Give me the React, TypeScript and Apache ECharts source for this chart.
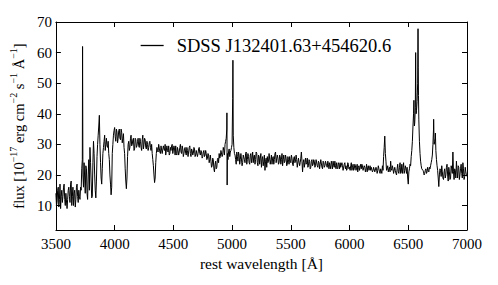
import React, { useEffect, useRef } from "react";
import * as echarts from "echarts";

const WL_START = 3500;
const WL_STEP = 10;
const continuumFlux: number[] = [
  // 3500
  14, 11, 16, 12, 9, 15, 13, 17, 10, 14,
  // 3600
  12, 16, 11, 18, 13, 10, 15, 12, 17, 11,
  // 3700
  13, 16, 22, 20, 24, 14, 22, 12, 25, 29,
  // 3800
  18, 13, 31, 20, 12.5, 26, 33, 39.5, 24, 17,
  // 3900
  27, 31, 28, 32, 29, 27, 20, 13.5, 27, 33,
  // 4000
  35.5, 31, 34, 32, 35, 31.5, 34, 32, 29, 22,
  // 4100
  15.5, 26, 31, 29, 33, 30, 32, 28.5, 31.5, 29.5,
  // 4200
  32, 29, 31, 28, 33, 30, 31.5, 28.5, 30, 29,
  // 4300
  31, 28, 27, 23, 17.5, 24, 29, 27.5, 30, 27,
  // 4400
  29.5, 27, 28.5, 30, 26.5, 28, 29.5, 27, 28, 30,
  // 4500
  27, 28.5, 29.5, 26.5, 28, 27.5, 30, 27, 28.5, 27,
  // 4600
  29, 26.5, 28, 27.5, 29.5, 26, 28, 27, 28.5, 26.5,
  // 4700
  28, 27, 29, 26.5, 27.5, 26, 28, 26.5, 27, 25.5,
  // 4800
  26.5, 25, 24.5, 23, 25, 21, 24.5, 22.5, 25.5, 27,
  // 4900
  26, 28, 26.5, 28, 30, 32, 27, 27.5, 26, 28,
  // 5000
  30, 33, 27, 25, 27.5, 24.5, 26.5, 25, 27, 24,
  // 5100
  26.5, 24, 27.5, 25, 26, 23.5, 27, 25.5, 24, 26.5,
  // 5200
  25, 27, 23, 26, 25.5, 22.5, 26, 24.5, 21.5, 25.5,
  // 5300
  26, 24.5, 27, 25, 23.5, 26, 25, 27.5, 24, 25.5,
  // 5400
  24, 26, 25, 23, 26.5, 24.5, 25.5, 23.5, 25, 26,
  // 5500
  24, 25.5, 23, 26, 24.5, 25, 22.5, 25.5, 24, 27.5,
  // 5600
  21, 25, 24, 23.5, 25.5, 23, 24.5, 22.5, 25, 23.5,
  // 5700
  24.5, 23, 25, 22.5, 24, 23.5, 25, 22, 24, 23,
  // 5800
  24.5, 22.5, 23.5, 24, 22, 23.5, 24.5, 22.5, 23, 24,
  // 5900
  22, 23.5, 24, 22.5, 23, 21.5, 24, 23, 22, 23.5,
  // 6000
  22.5, 23, 21.5, 23.5, 22, 23, 22.5, 21, 23, 22.5,
  // 6100
  22, 23, 21.5, 22.5, 22, 21, 23, 22, 21.5, 22.5,
  // 6200
  21.5, 22.5, 21, 22, 21.5, 22, 20.5, 22, 23, 26,
  // 6300
  32.7, 24.5, 22, 21, 22.5, 24.5, 21.5, 22, 20.5, 21.5,
  // 6400
  20, 23.5, 20.5, 24, 21, 20.5, 24, 21.5, 22, 22.5,
  // 6500
  17, 22, 23, 28, 36, 38, 42, 41, 50, 38,
  // 6600
  27, 23, 22, 21, 20.5, 22, 21, 21.5, 22.5, 23,
  // 6700
  25, 30, 30, 32, 25, 21.5, 16.2, 22, 19.5, 21,
  // 6800
  18.5, 22, 20, 23.5, 18, 21, 19, 22, 27.5, 18.5,
  // 6900
  21.5, 24.5, 19, 22.5, 20, 23.5, 19, 22, 19.5, 21,
  // 7000
  19.5,
];

// In-between samples on the offset grid 3505, 3515, ... 6995 Å
const MID_START = 3505;
const midFlux: number[] = [
  // 3505
  10, 15, 9.5, 17, 13, 11, 16, 12, 14, 9,
  // 3605
  15, 13, 17, 10, 16, 14, 9.5, 16, 13, 15,
  // 3705
  12, 15, 25, 16, 19, 23, 14, 20, 15, 24,
  // 3805
  12.5, 24, 27, 15, 18, 30, 36, 30, 19, 22,
  // 3905
  29, 33, 30, 29.5, 31, 25, 17, 16, 30, 34.5,
  // 4005
  32.5, 35, 30.5, 34.5, 32, 35, 30.5, 33.5, 27, 18,
  // 4105
  19, 30, 28, 32, 29.5, 31.5, 28, 32, 29, 31,
  // 4205
  29.5, 32, 29, 31.5, 28.5, 32, 29, 31, 28, 30.5,
  // 4305
  29, 30, 25, 20, 19, 27, 28, 30, 27.5, 29.5,
  // 4405
  27, 29.5, 28, 26.5, 29.5, 27.5, 26.5, 29, 29.5, 27,
  // 4505
  29.5, 26.5, 27, 29, 26.5, 29, 27.5, 29.5, 26, 28.5,
  // 4605
  27, 29, 26, 29, 27, 28.5, 26.5, 29, 26, 28,
  // 4705
  26, 28.5, 27, 28, 25.5, 27.5, 26, 28, 25, 27,
  // 4805
  24, 26.5, 22.5, 25.5, 22, 23.5, 22, 25, 24, 25.5,
  // 4905
  28, 26, 29, 26.5, 31, 35, 25, 28.5, 27.5, 29,
  // 5005
  45, 29, 26.5, 23.5, 26, 27.5, 23.5, 27, 23, 26.5,
  // 5105
  25, 27, 23.5, 27, 24, 26.5, 24, 27.5, 26, 23.5,
  // 5205
  27.5, 24, 26.5, 23.5, 27, 25, 23, 26.5, 24.5, 22.5,
  // 5305
  24, 27, 23.5, 26.5, 25.5, 23.5, 27, 24, 26.5, 23.5,
  // 5405
  26.5, 23.5, 27, 25, 24, 26.5, 23, 26, 23.5, 24.5,
  // 5505
  26.5, 23.5, 25.5, 24, 26.5, 22.5, 25.5, 23, 25.5, 24.5,
  // 5605
  24, 22.5, 25.5, 24, 22.5, 25, 22, 24.5, 23, 25,
  // 5705
  22.5, 25, 23, 24.5, 22, 25, 22.5, 24.5, 22.5, 24.5,
  // 5805
  23, 24.5, 22, 23, 24.5, 22, 23, 24.5, 22, 22.5,
  // 5905
  24, 22, 22.5, 24, 21.5, 23.5, 22, 21.5, 24, 22,
  // 6005
  21.5, 24, 22.5, 21.5, 23.5, 21.5, 23.5, 22.5, 21.5, 23.5,
  // 6105
  23.5, 21.5, 23, 21, 23.5, 22.5, 21.5, 23, 22.5, 21,
  // 6205
  22.5, 21, 22.5, 20.5, 23, 21, 22, 20.5, 21.5, 29,
  // 6305
  27, 21.5, 23, 22, 21, 22, 23, 20.5, 22.5, 20.5,
  // 6405
  22, 21, 22.5, 20.5, 23.5, 22.5, 20.5, 23, 20.5, 19,
  // 6505
  21, 23.5, 26, 31, 40, 37, 47, 44, 55, 31,
  // 6605
  24.5, 22, 21.5, 20, 21.5, 20.5, 22.5, 21, 22, 24,
  // 6705
  26.5, 35, 31, 28, 23, 19, 20, 21.5, 23, 19,
  // 6805
  21, 19, 22.5, 20, 22.5, 18.5, 23, 20.5, 21, 22,
  // 6905
  19, 21, 23, 18.5, 22, 20.5, 24, 18.5, 22.5, 20,
];

// Narrow emission lines / spikes between grid points: [wavelength Å, flux]
const lineFeatures: [number, number][] = [
  [3727, 62],
  [4956, 40.3],
  [4958, 16.7],
  [5007, 57.5],
  [6548, 44.4],
  [6552, 36],
  [6563, 60],
  [6567, 40],
  [6583, 67.8],
  [6587, 46],
  [6716, 38.2],
  [6731, 33.7],
];

const X_MIN = 3500;
const X_MAX = 7000;
const X_INTERVAL = 500;
const Y_MIN = 2;
const Y_MAX = 70;
const yTickValues = [10, 20, 30, 40, 50, 60, 70];
const seriesName = "SDSS J132401.63+454620.6";

const FONT = "Liberation Serif";

export default function App() {
  const ref = useRef<HTMLDivElement>(null);
  useEffect(() => {
    document.body.style.margin = "0";
    const chart = echarts.init(ref.current!, null, { renderer: "svg" });
    const points: number[][] = continuumFlux
      .map((f, i) => [WL_START + i * WL_STEP, f])
      .concat(midFlux.map((f, i) => [MID_START + i * WL_STEP, f]))
      .concat(lineFeatures.map((p) => [p[0], p[1]]))
      .sort((a, b) => a[0] - b[0]);

    const axisLine = { show: true, lineStyle: { color: "#000", width: 1 } };
    const tick = { show: true, inside: true, length: 5, lineStyle: { color: "#000", width: 1 } };
    const plain = (v: number) => String(v);

    chart.setOption({
      animation: false,
      textStyle: { fontFamily: FONT },
      grid: { left: 54, right: 31, top: 22, bottom: 55, containLabel: false },
      legend: {
        data: [seriesName],
        left: 135,
        top: 31,
        itemWidth: 23,
        itemHeight: 14,
        itemStyle: { color: "rgba(0,0,0,0)", borderWidth: 0, opacity: 0 },
        lineStyle: { color: "#000", width: 1.3 },
        textStyle: { fontFamily: FONT, fontSize: 18.5, color: "#000", padding: [0, 0, 0, 8] },
      },
      xAxis: [
        {
          type: "value",
          min: X_MIN,
          max: X_MAX,
          interval: X_INTERVAL,
          position: "bottom",
          name: "rest wavelength [Å]",
          nameLocation: "middle",
          nameGap: 24,
          nameTextStyle: { fontFamily: FONT, fontSize: 15.5, color: "#000" },
          axisLine,
          axisTick: tick,
          splitLine: { show: false },
          axisLabel: { fontFamily: FONT, fontSize: 15, color: "#000", margin: 6, formatter: plain },
        },
        {
          type: "value",
          min: X_MIN,
          max: X_MAX,
          interval: X_INTERVAL,
          position: "top",
          axisLine,
          axisTick: tick,
          splitLine: { show: false },
          axisLabel: { show: false },
        },
      ],
      yAxis: [
        {
          type: "value",
          min: Y_MIN,
          max: Y_MAX,
          position: "left",
          name:
            "{n|flux [10}{s|−17}{n| erg cm}{s|−2}{n| s}{s|−1}{n| Å}{s|−1}{n|]}",
          nameLocation: "middle",
          nameGap: 21,
          nameTextStyle: {
            fontFamily: FONT,
            fontSize: 14.5,
            color: "#000",
            rich: {
              n: { fontFamily: FONT, fontSize: 14.5, color: "#000", verticalAlign: "bottom", lineHeight: 17 },
              s: { fontFamily: FONT, fontSize: 10, color: "#000", verticalAlign: "bottom", padding: [0, 0, 8, 0] },
            },
          },
          axisLine,
          axisTick: { ...tick, customValues: yTickValues },
          splitLine: { show: false },
          axisLabel: { fontFamily: FONT, fontSize: 15, color: "#000", margin: 4, customValues: yTickValues, formatter: plain },
        },
        {
          type: "value",
          min: Y_MIN,
          max: Y_MAX,
          position: "right",
          axisLine,
          axisTick: { ...tick, customValues: yTickValues },
          splitLine: { show: false },
          axisLabel: { show: false, customValues: yTickValues },
        },
      ],
      series: [
        {
          name: seriesName,
          type: "line",
          xAxisIndex: 0,
          yAxisIndex: 0,
          data: points,
          symbol: "none",
          showSymbol: false,
          lineStyle: { color: "#000", width: 1 },
          itemStyle: { color: "#000" },
        },
      ],
    });
    return () => chart.dispose();
  }, []);
  return <div ref={ref} style={{ width: 498, height: 285 }} />;
}
